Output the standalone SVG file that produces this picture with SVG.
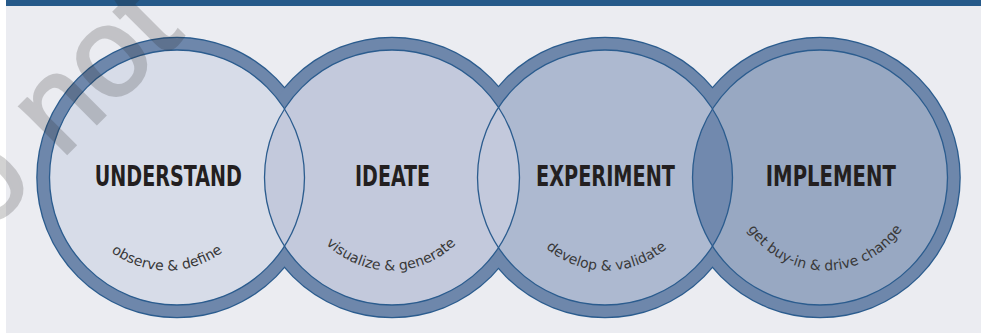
<svg xmlns="http://www.w3.org/2000/svg" xmlns:xlink="http://www.w3.org/1999/xlink" width="981" height="333" viewBox="0 0 981 333">
  <style>
    .ringstroke { fill: none; stroke: #2b5c8e; stroke-width: 2.6; }
    .ring { fill: #6e87ab; }
    .outline { fill: none; stroke: #2b5c8e; stroke-width: 1.3; }
    .title { font-family: "Liberation Sans Narrow", "DejaVu Sans Condensed", "Liberation Sans", sans-serif; font-weight: bold; font-size: 29px; fill: #231f20; }
    .sub { font-family: "DejaVu Sans", "Liberation Sans", sans-serif; font-size: 14px; fill: #383838; }
    .wm { font-family: "Liberation Sans", Arial, sans-serif; font-size: 126px; fill: #222222; stroke: #222222; stroke-width: 3; opacity: 0.2; }
  </style>
  <defs>
    <path id="arc1" d="M74,177.5 A93,93 0 0 0 260,177.5"/>
    <path id="arc2" d="M298,177.5 A93,93 0 0 0 484,177.5"/>
    <path id="arc3" d="M513.5,177.5 A93,93 0 0 0 699.5,177.5"/>
    <path id="arc4" d="M732,177.5 A93,93 0 0 0 918,177.5"/>
  </defs>

  <!-- background -->
  <rect x="6" y="0" width="975" height="333" fill="#ebecf1"/>
  <rect x="6" y="0" width="975" height="6" fill="#265a8a"/>

  <!-- outer rings -->
  <g id="rings">
    <circle class="ringstroke" cx="177" cy="177.5" r="139.5"/>
    <circle class="ringstroke" cx="392" cy="177.5" r="139.5"/>
    <circle class="ringstroke" cx="605" cy="177.5" r="139.5"/>
    <circle class="ringstroke" cx="820" cy="177.5" r="139.5"/>
    <circle class="ring" cx="177" cy="177.5" r="139.5"/>
    <circle class="ring" cx="392" cy="177.5" r="139.5"/>
    <circle class="ring" cx="605" cy="177.5" r="139.5"/>
    <circle class="ring" cx="820" cy="177.5" r="139.5"/>
  </g>

  <g id="node-understand">
    <circle cx="177" cy="177.5" r="127.5" fill="#d7dce8"/>
    <text class="title" x="168.3" y="185.5" text-anchor="middle" textLength="147" lengthAdjust="spacingAndGlyphs">UNDERSTAND</text>
    <text class="sub"><textPath xlink:href="#arc1" href="#arc1" startOffset="50%" text-anchor="middle">observe &amp; define</textPath></text>
  </g>

  <g id="node-experiment">
    <circle cx="605" cy="177.5" r="127.5" fill="#adb9d0"/>
    <text class="title" x="605.5" y="185.5" text-anchor="middle" textLength="139" lengthAdjust="spacingAndGlyphs">EXPERIMENT</text>
    <text class="sub"><textPath xlink:href="#arc3" href="#arc3" startOffset="50%" text-anchor="middle">develop &amp; validate</textPath></text>
  </g>

  <g id="node-implement">
    <circle cx="820" cy="177.5" r="127.5" fill="#98a8c2"/>
    <text class="title" x="830.8" y="185.5" text-anchor="middle" textLength="130" lengthAdjust="spacingAndGlyphs">IMPLEMENT</text>
    <text class="sub"><textPath xlink:href="#arc4" href="#arc4" startOffset="50%" text-anchor="middle">get buy-in &amp; drive change</textPath></text>
  </g>

  <g id="node-ideate">
    <circle cx="392" cy="177.5" r="127.5" fill="#c3c9dc"/>
    <text class="title" x="392.5" y="185.5" text-anchor="middle" textLength="75" lengthAdjust="spacingAndGlyphs">IDEATE</text>
    <text class="sub"><textPath xlink:href="#arc2" href="#arc2" startOffset="50%" text-anchor="middle">visualize &amp; generate</textPath></text>
  </g>

  <!-- overlap of experiment and implement -->
  <path id="lens-3-4" d="M712.5,108.9 A127.5,127.5 0 0 1 712.5,246.1 A127.5,127.5 0 0 1 712.5,108.9 Z" fill="#7189ae"/>

  <g id="outlines">
    <circle class="outline" cx="177" cy="177.5" r="127.5"/>
    <circle class="outline" cx="392" cy="177.5" r="127.5"/>
    <circle class="outline" cx="605" cy="177.5" r="127.5"/>
    <circle class="outline" cx="820" cy="177.5" r="127.5"/>
  </g>

  <!-- watermark -->
  <text class="wm" transform="translate(-77.7,298) rotate(-45)">Do not</text>
</svg>
